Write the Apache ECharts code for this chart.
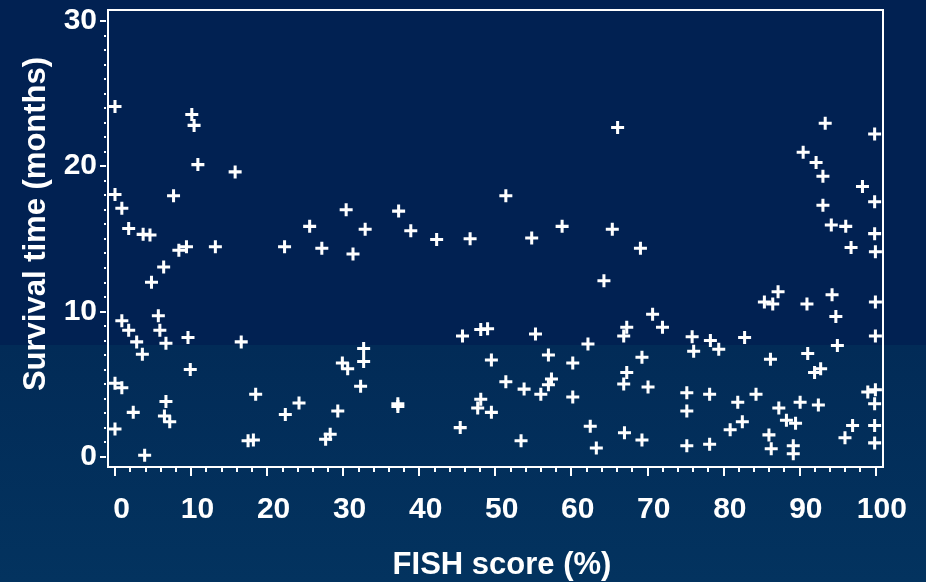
<!DOCTYPE html>
<html>
<head>
<meta charset="utf-8">
<title>Survival time vs FISH score</title>
<script src="https://cdn.jsdelivr.net/npm/echarts@6/dist/echarts.min.js"></script>
<style>
  html, body { margin: 0; padding: 0; background: #012152; }
  #chart { width: 926px; height: 582px; }
</style>
</head>
<body>
<div id="chart"></div>
<script>
// FISH score (%) of each patient
const fishScore = [
  0, 10.1, 10.4, 10.9, 15.8, 0, 7.7, 0.9, 1.8, 3.7,
  4.6, 25.6, 9.4, 8.4, 13.2, 22.3, 6.4, 4.8, 0.9, 1.8,
  5.7, 5.9, 2.85, 6.7, 9.6, 16.6, 3.6, 9.9, 0, 0.9,
  18.5, 6.7, 24.2, 2.4, 22.4, 6.5, 7.2, 0, 17.5, 18.2,
  3.9, 66.1, 51.4, 30.4, 37.3, 32.9, 38.9, 42.3, 46.7, 54.8,
  58.8, 65.4, 27.2, 31.3, 64.3, 45.7, 48.1, 49.0, 55.3, 32.7,
  32.7, 29.9, 30.6, 32.3, 49.5, 57.0, 62.2, 67.3, 66.9, 51.4,
  53.8, 56.0, 57.0, 57.4, 60.2, 60.2, 66.9, 67.3, 29.3, 37.2,
  37.2, 48.1, 47.7, 49.5, 45.4, 62.5, 28.3, 27.7, 53.4, 63.3,
  67.0, 93.4, 99.9, 90.5, 92.2, 93.1, 98.3, 99.9, 93.1, 94.2,
  96.1, 99.9, 69.1, 96.8, 100, 87.2, 85.4, 86.5, 91.0, 94.3,
  100, 70.7, 72.0, 94.8, 75.9, 78.3, 82.8, 100, 76.1, 79.4,
  95.0, 69.3, 86.2, 91.1, 92.8, 92.0, 70.1, 75.2, 78.2, 81.9,
  84.3, 90.1, 92.5, 75.2, 82.5, 87.3, 88.3, 89.5, 80.9, 97.0,
  96.0, 100, 99.0, 99.9, 99.9, 99.9, 69.3, 75.2, 78.2, 86.0,
  86.3, 89.2, 89.2
];

// Survival time (months) of the same patients, in the same order
const survivalMonths = [
  24.1, 23.55, 22.8, 20.1, 19.6, 18.05, 17.95, 17.1, 15.7, 15.3,
  15.25, 15.85, 14.45, 14.2, 14.45, 14.45, 13.05, 12.0, 9.35, 8.7,
  9.7, 8.7, 7.9, 7.8, 8.2, 7.9, 7.05, 6.0, 5.05, 4.75,
  4.3, 3.8, 3.7, 3.05, 2.9, 2.8, 2.4, 1.9, 1.1, 1.15,
  0.1, 22.65, 17.95, 17.0, 16.9, 15.65, 15.55, 14.95, 15.0, 15.05,
  15.85, 15.65, 14.35, 13.95, 12.1, 8.3, 8.75, 8.8, 8.45, 7.45,
  6.55, 6.45, 6.05, 4.85, 6.65, 7.0, 7.75, 8.9, 8.3, 5.15,
  4.65, 4.3, 4.95, 5.35, 6.45, 4.1, 5.0, 5.8, 3.15, 3.65,
  3.45, 3.95, 3.35, 3.05, 2.0, 2.1, 1.55, 1.2, 1.1, 0.6,
  1.65, 22.95, 22.2, 20.95, 20.25, 19.3, 18.6, 17.55, 17.3, 15.95,
  15.85, 15.35, 14.35, 14.4, 14.1, 11.35, 10.65, 10.5, 10.5, 11.15,
  10.65, 9.8, 8.9, 9.65, 8.25, 8.0, 8.2, 8.3, 7.25, 7.4,
  7.65, 6.85, 6.7, 7.1, 6.05, 5.8, 4.8, 4.4, 4.3, 3.75,
  4.3, 3.75, 3.55, 3.15, 2.4, 3.35, 2.5, 2.3, 1.85, 2.15,
  1.3, 4.6, 4.45, 3.65, 2.15, 0.95, 1.15, 0.75, 0.85, 1.5,
  0.55, 0.75, 0.2
];

// Tick positions
const xMajorTicks = [0, 10, 20, 30, 40, 50, 60, 70, 80, 90, 100];
const xMinorTicks = [2, 4, 6, 8, 12, 14, 16, 18, 22, 24, 26, 28, 32, 34, 36, 38,
  42, 44, 46, 48, 52, 54, 56, 58, 62, 64, 66, 68, 72, 74, 76, 78,
  82, 84, 86, 88, 92, 94, 96, 98];
const yMajorTicks = [0, 10, 20, 30];
const yMinorTicks = [1, 2, 3, 4, 5, 6, 7, 8, 9, 11, 12, 13, 14, 15, 16, 17, 18, 19,
  21, 22, 23, 24, 25, 26, 27, 28, 29];

const xTitle = 'FISH score (%)';
const yTitle = 'Survival time (months)';

const FONT = '"Liberation Sans", Arial, Helvetica, sans-serif';
const WHITE = '#ffffff';
const X_RANGE = [-0.92, 101.0];
const Y_RANGE = [-0.71, 30.74];

const points = fishScore.map((x, i) => [x, survivalMonths[i]]);

const chart = echarts.init(document.getElementById('chart'), null, { renderer: 'canvas' });

const tickLine = { color: WHITE, width: 2 };
const hiddenLine = { show: false, onZero: false };

chart.setOption({
  animation: false,
  backgroundColor: '#012152',
  graphic: [
    {
      type: 'rect',
      z: -10,
      silent: true,
      shape: { x: 0, y: 345, width: 926, height: 237 },
      style: {
        fill: {
          type: 'linear', x: 0, y: 0, x2: 0, y2: 1,
          colorStops: [
            { offset: 0, color: '#022b57' },
            { offset: 1, color: '#03335f' }
          ]
        }
      }
    },
    {
      type: 'text',
      x: 502, y: 565,
      style: {
        text: xTitle, fill: WHITE, font: 'bold 31px ' + FONT,
        textAlign: 'center', textVerticalAlign: 'middle'
      }
    },
    {
      type: 'text',
      x: 36, y: 224,
      rotation: Math.PI / 2,
      style: {
        text: yTitle, fill: WHITE, font: 'bold 31px ' + FONT,
        textAlign: 'center', textVerticalAlign: 'middle'
      }
    }
  ],
  grid: {
    left: 108, right: 43, top: 10, bottom: 115,
    show: true, borderColor: WHITE, borderWidth: 2, backgroundColor: 'transparent'
  },
  xAxis: [
    {
      type: 'value', position: 'bottom', min: X_RANGE[0], max: X_RANGE[1],
      axisLine: hiddenLine,
      splitLine: { show: false },
      axisTick: { show: true, inside: false, customValues: xMajorTicks, length: 9, lineStyle: tickLine },
      axisLabel: {
        customValues: xMajorTicks, color: WHITE, fontSize: 30, fontWeight: 'bold',
        fontFamily: FONT, margin: 28, padding: [0, 0, 0, 13]
      }
    },
    {
      type: 'value', position: 'bottom', min: X_RANGE[0], max: X_RANGE[1],
      axisLine: hiddenLine,
      splitLine: { show: false },
      axisLabel: { show: false },
      axisTick: { show: true, inside: false, customValues: xMinorTicks, length: 5, lineStyle: tickLine }
    }
  ],
  yAxis: [
    {
      type: 'value', position: 'left', offset: 2, min: Y_RANGE[0], max: Y_RANGE[1],
      axisLine: hiddenLine,
      splitLine: { show: false },
      axisTick: { show: true, inside: false, customValues: yMajorTicks, length: 6, lineStyle: tickLine },
      axisLabel: {
        customValues: yMajorTicks, color: WHITE, fontSize: 30, fontWeight: 'bold',
        fontFamily: FONT, margin: 9
      }
    },
    {
      type: 'value', position: 'left', offset: 2, min: Y_RANGE[0], max: Y_RANGE[1],
      axisLine: hiddenLine,
      splitLine: { show: false },
      axisLabel: { show: false },
      axisTick: { show: true, inside: false, customValues: yMinorTicks, length: 2, lineStyle: tickLine }
    }
  ],
  series: [
    {
      type: 'scatter',
      xAxisIndex: 0,
      yAxisIndex: 0,
      data: points,
      // plus-sign marker
      symbol: 'path://M4.6,0H7.4V4.6H12V7.4H7.4V12H4.6V7.4H0V4.6H4.6Z',
      symbolSize: 13,
      itemStyle: { color: WHITE, opacity: 1 },
      clip: false
    }
  ]
});
</script>
</body>
</html>
